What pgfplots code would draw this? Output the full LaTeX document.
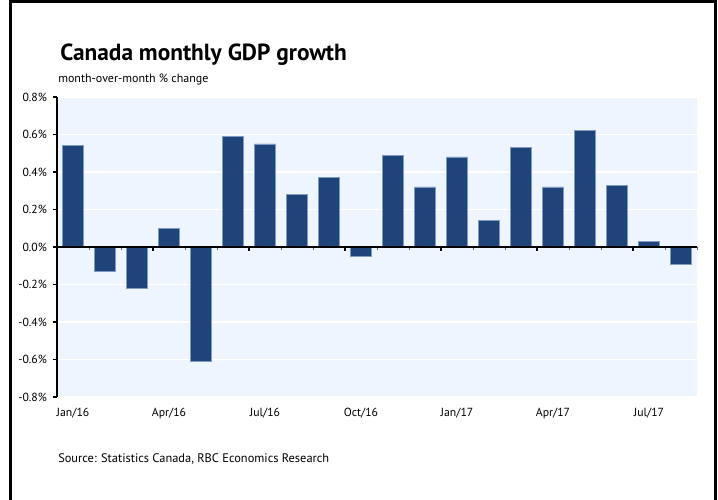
\documentclass[border=0pt]{standalone}
\usepackage{pgfplots}
\pgfplotsset{compat=1.18}
\usepackage{fontspec}
\setmainfont{PT Sans}
\definecolor{barblue}{HTML}{1F4479}
\definecolor{baredge}{HTML}{7E9BC4}
\definecolor{bgblue}{HTML}{EEF5FE}
\pgfplotstableread{
x y
0 0.54
1 -0.13
2 -0.22
3 0.10
4 -0.61
5 0.59
6 0.55
7 0.28
8 0.37
9 -0.05
10 0.49
11 0.32
12 0.48
13 0.14
14 0.53
15 0.32
16 0.62
17 0.33
18 0.03
19 -0.09
}\gdp
\begin{document}
\begin{tikzpicture}
\path[use as bounding box] (0,0) rectangle (538.5pt,375pt);
\begin{axis}[
  at={(42.75pt,77.25pt)}, anchor=south west,
  width=480pt, height=225pt, scale only axis,
  xmin=-0.5, xmax=19.5, ymin=-0.8, ymax=0.8,
  axis background/.style={fill=bgblue},
  axis y line*=left, axis x line*=bottom,
  x axis line style={draw=none},
  y axis line style={black, line width=0.8pt},
  xtick={0,3,6,9,12,15,18},
  xticklabels={Jan/16,Apr/16,Jul/16,Oct/16,Jan/17,Apr/17,Jul/17},
  x tick style={draw=none},
  ytick={-0.8,-0.6,...,0.81},
  y tick style={black, line width=0.8pt},
  tick align=outside, major tick length=3pt,
  yticklabel={\pgfmathprintnumber[fixed,fixed zerofill,precision=1]{\tick}\%},
  /pgf/number format/assume math mode=true,
  ymajorgrids, grid style={white, line width=0.8pt},
  tick label style={font=\fontsize{8.8}{10}\selectfont},
  xticklabel style={yshift=-2pt},
  yticklabel style={xshift=-1pt},
  clip=false,
]
\addplot[ybar, bar width=15.75pt, fill=barblue, draw=baredge, line width=0.5pt] table[x=x,y=y] {\gdp};
\end{axis}
\begin{axis}[
  at={(42.75pt,189.75pt)}, anchor=south west,
  width=480pt, height=112.5pt, scale only axis,
  xmin=-0.5, xmax=19.5, ymin=0, ymax=0.8,
  axis x line*=bottom, axis y line=none,
  x axis line style={black, line width=1pt},
  xtick={-0.5,2.5,...,19},
  minor xtick={0.5,1.5,3.5,4.5,6.5,7.5,9.5,10.5,12.5,13.5,15.5,16.5,18.5,19.5},
  xticklabels={},
  tick align=outside,
  major tick length=3pt, minor tick length=2.5pt,
  major x tick style={black, line width=1pt},
  minor x tick style={black!60, line width=0.6pt},
]
\end{axis}
\node[anchor=base west, font=\fontsize{17.5}{20}\selectfont\bfseries, inner sep=0pt] at (45pt,329.25pt) {Canada monthly GDP growth};
\node[anchor=base west, font=\fontsize{9}{10}\selectfont, inner sep=0pt] at (43.5pt,312.75pt) {month-over-month \% change};
\node[anchor=base west, font=\fontsize{9.3}{11}\selectfont, inner sep=0pt] at (43.5pt,27.75pt) {Source: Statistics Canada, RBC Economics Research};
\draw[black, line width=2.25pt] (7.5pt,-10pt) -- (7.5pt,373.6pt) -- (536.6pt,373.6pt) -- (536.6pt,-10pt);
\end{tikzpicture}
\end{document}
